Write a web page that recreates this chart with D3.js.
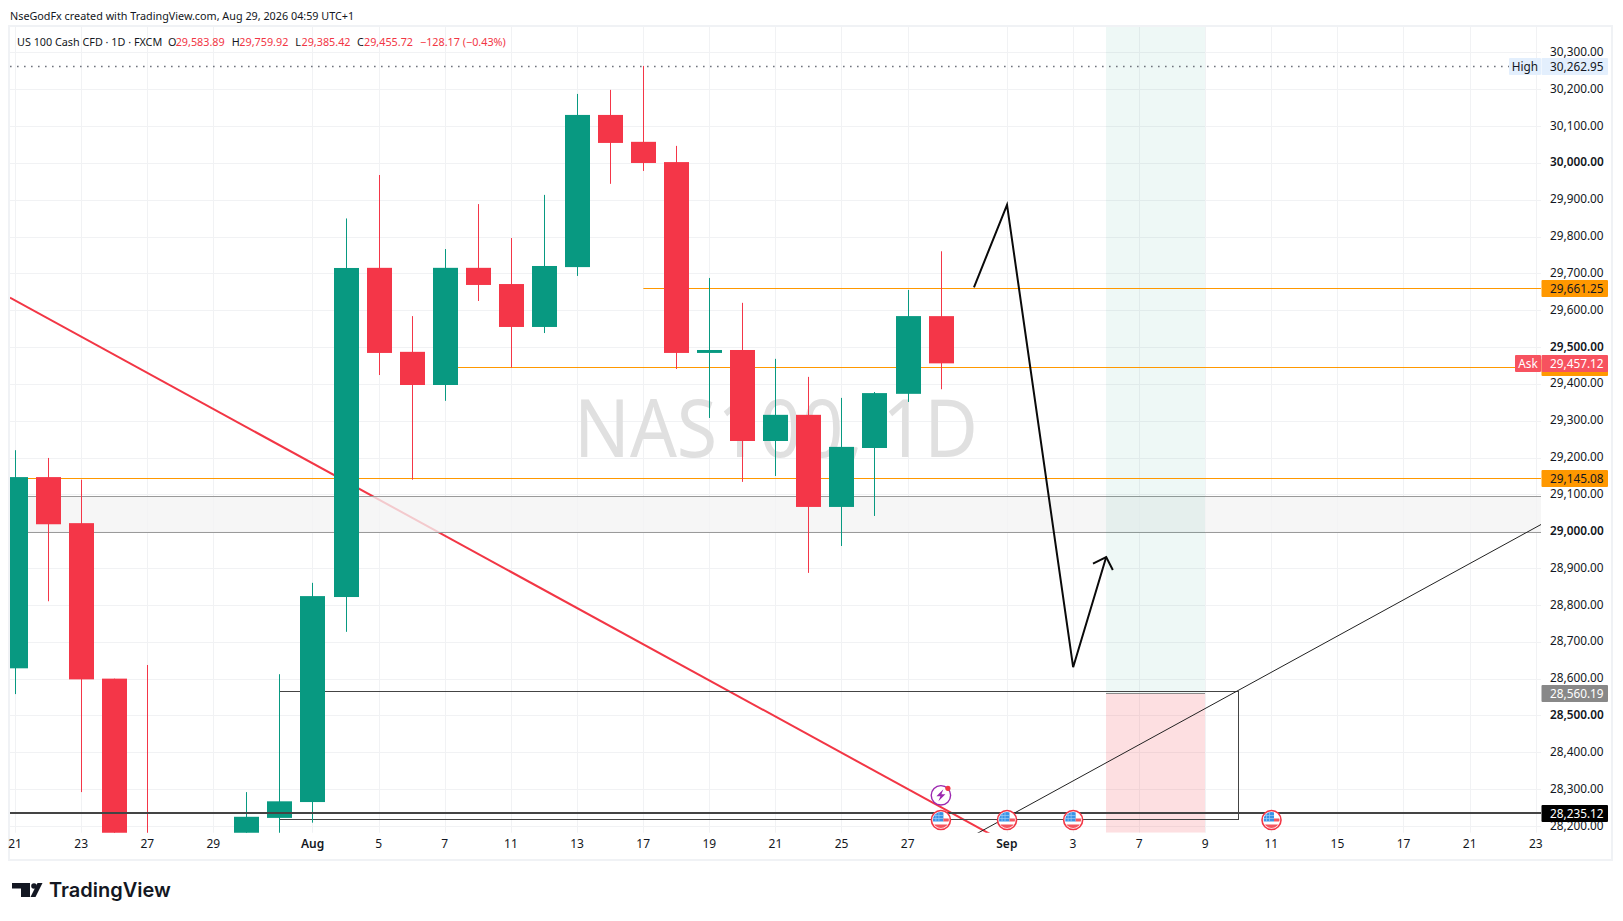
<!DOCTYPE html>
<html><head><meta charset="utf-8">
<style>html,body{margin:0;padding:0;background:#fff}svg{display:block}
text{font-family:"Noto Sans",sans-serif;fill:#131722}</style>
<script src="https://cdnjs.cloudflare.com/ajax/libs/d3/7.8.5/d3.min.js"></script>
</head><body><svg id="c" width="1623" height="921"></svg>
<script>
// Session dates on the time axis
const categories=["Jul 21","Jul 22","Jul 23","Jul 24","Jul 27","Jul 28","Jul 29","Jul 30","Jul 31","Aug 3","Aug 4","Aug 5","Aug 6","Aug 7","Aug 10","Aug 11","Aug 12","Aug 13","Aug 14","Aug 17","Aug 18","Aug 19","Aug 20","Aug 21","Aug 24","Aug 25","Aug 26","Aug 27","Aug 28","Aug 31","Sep 1","Sep 2","Sep 3","Sep 4","Sep 7","Sep 8","Sep 9","Sep 10","Sep 11","Sep 14","Sep 15","Sep 16","Sep 17","Sep 18","Sep 21","Sep 22","Sep 23"];
const xTickDates=["Jul 21","Jul 23","Jul 27","Jul 29","Aug 3","Aug 5","Aug 7","Aug 11","Aug 13","Aug 17","Aug 19","Aug 21","Aug 25","Aug 27","Sep 1","Sep 3","Sep 7","Sep 9","Sep 11","Sep 15","Sep 17","Sep 21","Sep 23"];
const xTickLabels=["21","23","27","29","Aug","5","7","11","13","17","19","21","25","27","Sep","3","7","9","11","15","17","21","23"];
const priceTicks=[30300,30200,30100,30000,29900,29800,29700,29600,29500,29400,29300,29200,29100,29000,28900,28800,28700,28600,28500,28400,28300,28200];
const boldPrices=[30000,29500,29000,28500];
// Candles (sessions wholly below the visible range are left out)
const candleDates=["Jul 21","Jul 22","Jul 23","Jul 24","Jul 27","Jul 30","Jul 31","Aug 3","Aug 4","Aug 5","Aug 6","Aug 7","Aug 10","Aug 11","Aug 12","Aug 13","Aug 14","Aug 17","Aug 18","Aug 19","Aug 20","Aug 21","Aug 24","Aug 25","Aug 26","Aug 27","Aug 28"];
const opens =[28628,29147,29022,28600,28050,28120,28222,28265,28821.5,29715,29487,29397,29715,29671,29554.5,29717,30130,30057,30002,29484,29492,29245,29316,29066,29226,29373,29583.89];
const highs =[29220,29199,29140,28600,28637,28292,28612,28860,29849,29967,29584,29766,29888,29796,29913,30187,30198,30262.95,30046,29687.5,29620,29468,29419,29362,29378,29655,29759.92];
const lows  =[28558,28810,28292,27800,27700,28100,28150,28209,28727,29424,29140,29354,29625,29444,29538,29693,29943,29978,29440.5,29307.5,29134,29150,28887,28960,29041.5,29351,29385.42];
const closes=[29147,29019,28598,27900,27800,28225,28267,28824,29714.6,29484,29397,29715,29668.5,29554.5,29720,30130,30054,29999.6,29484,29492,29245,29316,29066,29229,29375,29584,29455.72];
// Horizontal levels: [price, first slot]
const orangeLevels=[[29661.25,19],[29445,13],[29145.08,-1]];
const highPrice=30262.95, askPrice=29457.12, supportPrice=28235.12, stopPrice=28560.19, hiddenOrangePrice=29445;
const zoneBand=[29097,29000];
const rectBox={top:28566,bottom:28218,from:8,to:37};
const shadeSlots=[33,36], shadeSplit=28560.19;
const redTrend=[[-0.16,29634],[30,28153]];
const blackTrend=[[29,28175],[47,29060]];
const pathPoints=[[29,29662],[30,29886],[32,28631],[33,28930]];
const arrowHead=[[32.6,28912],[33,28930],[33.2,28895]];
const flagSlots=[28,30,32,38];
const flashSlot=28;

const svg=d3.select("#c");
const L=10,R=1541,T=27,B=832.7;
const x=d3.scalePoint().domain(categories).range([15.2,1536]);
const slot=d3.scaleLinear().domain([0,46]).range(x.range());
const y=d3.scaleLinear().domain([30300,28200]).range([52.3,826]);
const crisp=v=>Math.round(v)+.5;
const barX=d=>Math.round(x(d)-0.3)+.5;

svg.append("rect").attr("x",9).attr("y",26).attr("width",1603).attr("height",834).attr("fill","#fff").attr("stroke","#f0f2f5").attr("stroke-width",2);
svg.append("defs").append("clipPath").attr("id","plot").append("rect").attr("x",L).attr("y",T).attr("width",R-L).attr("height",B-T);
svg.append("text").attr("x",10).attr("y",19.5).attr("font-size",10.8).text("NseGodFx created with TradingView.com, Aug 29, 2026 04:59 UTC+1");

// grid
const grid=svg.append("g").attr("stroke","#f1f2f4").attr("stroke-width",1);
priceTicks.forEach(p=>grid.append("line").attr("x1",L).attr("x2",R).attr("y1",crisp(y(p))).attr("y2",crisp(y(p))));
xTickDates.forEach(d=>grid.append("line").attr("y1",T).attr("y2",B).attr("x1",barX(d)).attr("x2",barX(d)));

const plot=svg.append("g").attr("clip-path","url(#plot)");
plot.append("text").attr("x",574).attr("y",457).attr("font-size",80).attr("textLength",404).attr("lengthAdjust","spacingAndGlyphs").style("fill","#e0e0e0").text("NAS100, 1D");

plot.append("path").attr("d",d3.line().x(d=>slot(d[0])).y(d=>y(d[1]))(redTrend)).attr("fill","none").attr("stroke","#f23645").attr("stroke-width",2);
plot.append("rect").attr("x",L-2).attr("width",R-L+4).attr("y",crisp(y(zoneBand[0]))).attr("height",Math.round(y(zoneBand[1])-y(zoneBand[0]))).attr("fill","#f3f3f3").attr("fill-opacity",.78).attr("stroke","#9a9a9a").attr("stroke-width",1);

// shaded position zones
const sx0=Math.round(slot(shadeSlots[0])), sx1=Math.round(slot(shadeSlots[1]));
plot.append("rect").attr("x",sx0).attr("width",sx1-sx0).attr("y",T).attr("height",y(shadeSplit)-T).attr("fill","#089981").attr("fill-opacity",.07);
plot.append("rect").attr("x",sx0).attr("width",sx1-sx0).attr("y",y(shadeSplit)).attr("height",B-y(shadeSplit)).attr("fill","#f23645").attr("fill-opacity",.16);
plot.append("line").attr("x1",sx0).attr("x2",sx1).attr("y1",crisp(y(shadeSplit))).attr("y2",crisp(y(shadeSplit))).attr("stroke","#8a8a8a").attr("stroke-width",1);

// levels
orangeLevels.forEach(([p,s])=>plot.append("line").attr("x1",slot(s)).attr("x2",R).attr("y1",crisp(y(p))).attr("y2",crisp(y(p))).attr("stroke","#ff9800").attr("stroke-width",1));
plot.append("line").attr("x1",L).attr("x2",1509).attr("y1",crisp(y(highPrice))).attr("y2",crisp(y(highPrice))).attr("stroke","#6f737d").attr("stroke-width",1.4).attr("stroke-dasharray","1.6 5.4");
plot.append("rect").attr("x",crisp(slot(rectBox.from))-1).attr("width",Math.round(slot(rectBox.to)-slot(rectBox.from))).attr("y",crisp(y(rectBox.top))).attr("height",Math.round(y(rectBox.bottom)-y(rectBox.top))).attr("fill","none").attr("stroke","#444").attr("stroke-width",1);

// candles
const bw=25;
const cg=plot.selectAll("g.candle").data(candleDates.map((d,i)=>({d,o:opens[i],h:highs[i],l:lows[i],c:closes[i]}))).join("g").attr("class","candle");
const col=d=>d.c>=d.o?"#089981":"#f43648";
cg.append("line").attr("x1",d=>barX(d.d)).attr("x2",d=>barX(d.d)).attr("y1",d=>y(d.h)).attr("y2",d=>y(d.l)).attr("stroke",col).attr("stroke-width",1);
cg.append("rect").attr("x",d=>barX(d.d)-bw/2).attr("width",bw).attr("y",d=>y(Math.max(d.o,d.c))).attr("height",d=>Math.max(1,Math.abs(y(d.o)-y(d.c)))).attr("fill",col);

plot.append("line").attr("x1",L).attr("x2",R).attr("y1",Math.round(y(supportPrice))).attr("y2",Math.round(y(supportPrice))).attr("stroke","#444").attr("stroke-width",2);
plot.append("path").attr("d",d3.line().x(d=>slot(d[0])).y(d=>y(d[1]))(blackTrend)).attr("fill","none").attr("stroke","#222").attr("stroke-width",1);
const ln=d3.line().x(d=>slot(d[0])).y(d=>y(d[1]));
plot.append("path").attr("d",ln(pathPoints)).attr("fill","none").attr("stroke","#0a0a0a").attr("stroke-width",2);
plot.append("path").attr("d",ln(arrowHead)).attr("fill","none").attr("stroke","#0a0a0a").attr("stroke-width",2);

// event icons
const flagY=820;
flagSlots.forEach((s,k)=>{
  const g=svg.append("g").attr("transform",`translate(${slot(s)},${flagY})`);
  const cid="fc"+k;
  g.append("clipPath").attr("id",cid).append("circle").attr("r",8);
  g.append("circle").attr("r",9.5).attr("fill","#fff").attr("stroke","#f23645").attr("stroke-width",1.6);
  const f=g.append("g").attr("clip-path",`url(#${cid})`);
  f.append("rect").attr("x",-8).attr("y",-8).attr("width",10.5).attr("height",9.5).attr("fill","#3a93e6");
  [-4.5,-1.5,1.5].forEach(v=>f.append("line").attr("x1",-8).attr("x2",2.5).attr("y1",v).attr("y2",v).attr("stroke","#9ccbf5").attr("stroke-width",.7));
  [-5,-2].forEach(v=>f.append("line").attr("y1",-8).attr("y2",1.5).attr("x1",v).attr("x2",v).attr("stroke","#9ccbf5").attr("stroke-width",.7));
  f.append("rect").attr("x",2.5).attr("y",-1.5).attr("width",6).attr("height",3).attr("fill","#f4555f");
  f.append("rect").attr("x",-8).attr("y",4.5).attr("width",16).attr("height",4).attr("fill","#f4555f");
});
const fg=svg.append("g").attr("transform",`translate(${slot(flashSlot)},795.3)`);
fg.append("circle").attr("r",9.7).attr("fill","#fff").attr("stroke","#9c27b0").attr("stroke-width",1.4);
fg.append("path").attr("d","M2.5,-6 L-4.5,1 L-0.5,1 L-2.5,6 L4.5,-1 L0.5,-1 Z").attr("fill","#9c27b0");
fg.append("circle").attr("cx",7).attr("cy",-7).attr("r",2.6).attr("fill","#f23645");

// axes
const ax=svg.append("g").attr("transform",`translate(1541,-0.7)`).call(d3.axisRight(y).tickValues(priceTicks).tickSize(0).tickPadding(9).tickFormat(d3.format(",.2f")));
ax.select(".domain").remove();
ax.selectAll("text").attr("font-size",11.8).attr("font-family",null).style("fill","#131722")
  .attr("font-weight",d=>boldPrices.includes(d)?600:400);
const bx=svg.append("g").attr("transform",`translate(-0.7,${B})`).call(d3.axisBottom(x).tickValues(xTickDates).tickSize(0).tickPadding(7).tickFormat((d,i)=>xTickLabels[i]));
bx.select(".domain").remove();
bx.selectAll("text").attr("font-size",12).attr("font-family",null).style("fill","#131722")
  .attr("font-weight",(d,i)=>/[A-Za-z]/.test(xTickLabels[i])?600:400);

// price labels
function tag(p,fill,color,txt){
  const c=Math.round(y(p));
  svg.append("rect").attr("x",1541.5).attr("y",c-8).attr("width",66.5).attr("height",17).attr("rx",1).attr("fill",fill);
  if(txt) svg.append("text").attr("x",1550).attr("y",c+4.7).attr("font-size",11.8).style("fill",color).text(txt);
}
function side(p,x0,fill,color,txt){
  const c=Math.round(y(p));
  svg.append("rect").attr("x",x0).attr("y",c-8).attr("width",1541-x0).attr("height",17).attr("rx",1).attr("fill",fill);
  svg.append("text").attr("x",(x0+1541)/2).attr("y",c+4.7).attr("text-anchor","middle").attr("font-size",11.8).style("fill",color).text(txt);
}
const f2=d3.format(",.2f");
tag(highPrice,"#e3effd","#131722",f2(highPrice)); side(highPrice,1509,"#e3effd","#131722","High");
tag(orangeLevels[0][0],"#ff9800","#131722",f2(orangeLevels[0][0]));
tag(hiddenOrangePrice,"#ff9800",null,null);
tag(askPrice,"#f7525f","#fff",f2(askPrice)); side(askPrice,1515,"#f7525f","#fff","Ask");
tag(orangeLevels[2][0],"#ff9800","#131722",f2(orangeLevels[2][0]));
tag(stopPrice,"#888","#fff",f2(stopPrice));
tag(supportPrice,"#000","#fff",f2(supportPrice));

// legend
const lg=svg.append("g").attr("font-size",10.8);
const red="#f23645";
[[17,"US 100 Cash CFD · 1D · FXCM","#131722"],[168,"O","#131722"],[175.7,"29,583.89",red],[231.7,"H","#131722"],[239.3,"29,759.92",red],[295.3,"L","#131722"],[301.5,"29,385.42",red],[357,"C","#131722"],[364,"29,455.72",red],[420,"−128.17 (−0.43%)",red]]
 .forEach(([xp,t,c])=>lg.append("text").attr("x",xp).attr("y",45.5).style("fill",c).text(t));

// logo
const logo=svg.append("g").attr("fill","#131722");
logo.append("path").attr("d","M12,883 H30 V897 H21 V888.5 H12 Z");
logo.append("circle").attr("cx",34).attr("cy",886).attr("r",2.8);
logo.append("path").attr("d","M37.5,883 H42.5 L35.5,897 H30.5 Z");
svg.append("text").attr("x",49).attr("y",897).attr("font-size",20).attr("font-weight",600).style("font-family","Inter").text("TradingView");
</script></body></html>
